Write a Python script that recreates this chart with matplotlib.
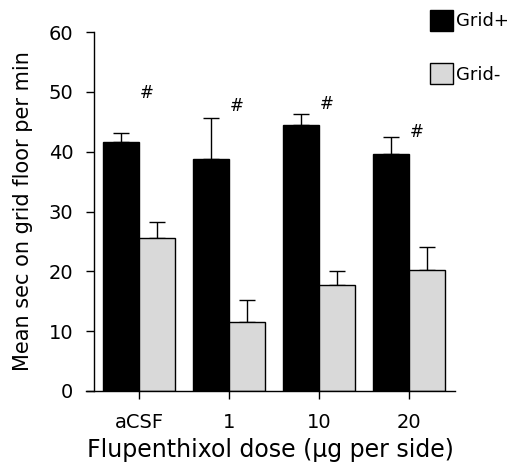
import numpy as np
import matplotlib
matplotlib.use("Agg")
import matplotlib.pyplot as plt
from matplotlib.patches import Patch

plt.rcParams['font.family'] = ['DejaVu Sans']

DOSES = ['aCSF', '1', '10', '20']
GRID_PLUS = [41.6, 38.8, 44.5, 39.6]
GRID_PLUS_ERR = [1.6, 6.9, 1.8, 2.9]
GRID_MINUS = [25.6, 11.5, 17.7, 20.2]
GRID_MINUS_ERR = [2.6, 3.7, 2.4, 3.9]
HASH_Y = [49.8, 47.7, 48.0, 43.3]

BAR_W = 0.4
GREY = '#d9d9d9'


def main():
    fig = plt.figure(figsize=(5.10, 4.66), dpi=100)
    ax = fig.add_axes([86 / 510, 1 - 391 / 466, (455 - 86) / 510, (391 - 32) / 466])
    x = np.arange(len(DOSES))

    ax.bar(x - BAR_W / 2, GRID_PLUS, BAR_W, color='black', edgecolor='black', linewidth=1, zorder=2)
    ax.bar(x + BAR_W / 2, GRID_MINUS, BAR_W, color=GREY, edgecolor='black', linewidth=1, zorder=2)
    ax.errorbar(x - BAR_W / 2, GRID_PLUS, yerr=[np.zeros(4), GRID_PLUS_ERR], fmt='none',
                ecolor='black', elinewidth=1, capsize=6, capthick=1, zorder=1)
    ax.errorbar(x + BAR_W / 2, GRID_MINUS, yerr=[np.zeros(4), GRID_MINUS_ERR], fmt='none',
                ecolor='black', elinewidth=1, capsize=6, capthick=1, zorder=1)

    for xi, hy in zip(x, HASH_Y):
        ax.text(xi + 0.08, hy, '#', ha='center', va='center', fontsize=12)

    # x axis runs a bit past the y axis on the left
    ax.set_xlim(-0.59, 3.51)
    ax.set_ylim(0, 60)
    ax.spines['left'].set_position(('data', -0.5))
    ax.spines['left'].set_bounds(0, 60)
    ax.spines['top'].set_visible(False)
    ax.spines['right'].set_visible(False)
    for s in ('left', 'bottom'):
        ax.spines[s].set_linewidth(1)

    ax.set_xticks(x)
    ax.set_xticklabels(DOSES)
    ax.set_yticks(np.arange(0, 61, 10))
    ax.tick_params(axis='both', direction='out', length=6, width=1, labelsize=14)
    ax.tick_params(axis='y', pad=9)
    ax.tick_params(axis='x', pad=10)

    ax.set_xlabel('Flupenthixol dose (\u03bcg per side)', fontsize=17, labelpad=4)
    ax.set_ylabel('Mean sec on grid floor per min', fontsize=15, labelpad=11)

    handles = [Patch(facecolor='black', edgecolor='black', label='Grid+'),
               Patch(facecolor=GREY, edgecolor='black', label='Grid-')]
    fig.legend(handles=handles, loc='upper left', bbox_to_anchor=(430 / 510, 1 - 10 / 466),
               frameon=False, fontsize=13, handlelength=1.25, handleheight=1.4,
               handletextpad=0.2, labelspacing=1.8, borderpad=0, borderaxespad=0)

    fig.savefig('out.png', dpi=100)


if __name__ == '__main__':
    main()
